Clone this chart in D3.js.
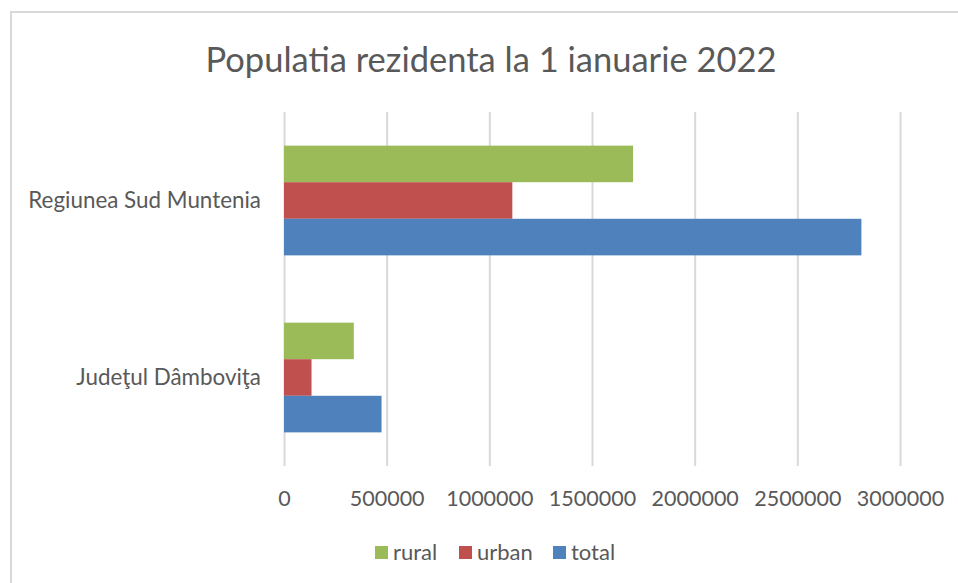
<!DOCTYPE html>
<html>
<head>
<meta charset="utf-8">
<script src="https://cdn.jsdelivr.net/npm/d3@7"></script>
<style>
  html, body { margin: 0; padding: 0; background: #fff; }
  text { font-family: Lato, "Open Sans", sans-serif; fill: #595959; }
</style>
</head>
<body>
<div id="chart"></div>
<script>
const categories = ['Regiunea Sud Muntenia', 'Judeţul Dâmboviţa']
const seriesNames = ['rural', 'urban', 'total']
const rural = [1700000, 340000]
const urban = [1112000, 134000]
const total = [2812000, 475000]
const xTicks = [0, 500000, 1000000, 1500000, 2000000, 2500000, 3000000]
const colorsList = ['#9bbb59', '#c0504d', '#4f81bd']

const width = 958
const height = 583
const margin = { top: 112, bottom: 117, left: 284, right: 58 }
const innerWidth = width - margin.left - margin.right
const innerHeight = height - margin.top - margin.bottom

const values = { rural, urban, total }
const rows = categories.map((c, i) => ({
  category: c,
  bars: seriesNames.map(s => ({ series: s, value: values[s][i] }))
}))

const svg = d3.select('#chart').append('svg')
  .attr('width', width)
  .attr('height', height)

// chart area frame (only top + left visible in crop)
svg.append('path')
  .attr('d', `M${width + 5},12 H11 V${height + 5}`)
  .attr('fill', 'none')
  .attr('stroke', '#d9d9d9')
  .attr('stroke-width', 2)

svg.append('text')
  .attr('x', 491)
  .attr('y', 72)
  .attr('text-anchor', 'middle')
  .style('font-size', '34.5px')
  .text('Populatia rezidenta la 1 ianuarie 2022')

const x = d3.scaleLinear()
  .domain([0, 3000000])
  .range([0, innerWidth])

const y0 = d3.scaleBand()
  .domain(categories)
  .range([0, innerHeight])
  .paddingInner(0.38)
  .paddingOuter(0.19)

const y1 = d3.scaleBand()
  .domain(seriesNames)
  .range([0, y0.bandwidth()])

const color = d3.scaleOrdinal()
  .domain(seriesNames)
  .range(colorsList)

const g = svg.append('g')
  .attr('transform', `translate(${margin.left}, ${margin.top})`)

// gridlines
g.append('g')
  .call(d3.axisBottom(x).tickValues(xTicks).tickSize(innerHeight).tickFormat(''))
  .call(a => a.select('.domain').remove())
  .call(a => a.selectAll('line').attr('stroke', '#d9d9d9').attr('stroke-width', 2))

// tick labels
g.append('g')
  .attr('transform', `translate(0, ${innerHeight})`)
  .call(d3.axisBottom(x).tickValues(xTicks).tickSize(0).tickPadding(25).tickFormat(d3.format('d')))
  .call(a => a.select('.domain').remove())
  .call(a => a.selectAll('text')
    .attr('fill', '#595959')
    .style('font-family', 'Lato, sans-serif')
    .style('font-size', '21.5px'))

// bars
g.selectAll('g.cat')
  .data(rows)
  .join('g')
  .attr('class', 'cat')
  .attr('transform', d => `translate(0, ${y0(d.category)})`)
  .selectAll('rect')
  .data(d => d.bars)
  .join('rect')
  .attr('x', x(0))
  .attr('y', d => y1(d.series))
  .attr('width', d => x(d.value) - x(0))
  .attr('height', y1.bandwidth())
  .attr('fill', d => color(d.series))

// category labels
g.append('g')
  .call(d3.axisLeft(y0).tickSize(0).tickPadding(23))
  .call(a => a.select('.domain').remove())
  .call(a => a.selectAll('text')
    .attr('fill', '#595959')
    .style('font-family', 'Lato, sans-serif')
    .style('font-size', '22.4px'))

// legend
const legendX = [375, 459, 553]
const legend = svg.append('g')
  .selectAll('g')
  .data(seriesNames)
  .join('g')
  .attr('transform', (d, i) => `translate(${legendX[i]}, 546)`)

legend.append('rect')
  .attr('width', 13)
  .attr('height', 13)
  .attr('fill', d => color(d))

legend.append('text')
  .attr('x', 18)
  .attr('y', 14)
  .style('font-size', '22px')
  .text(d => d)
</script>
</body>
</html>
